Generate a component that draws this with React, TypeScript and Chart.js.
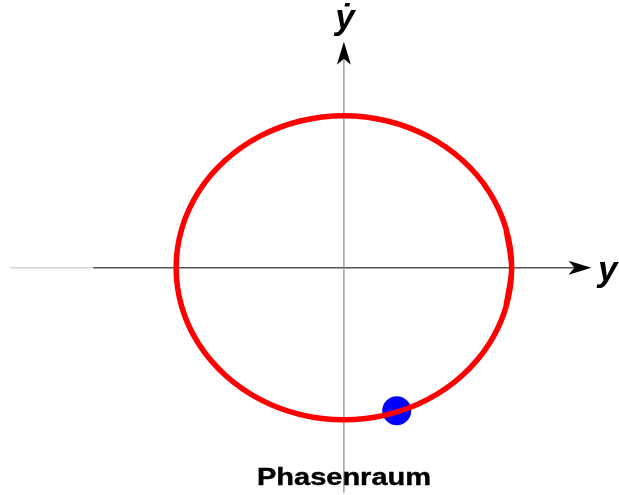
import React, { useEffect, useRef } from "react";
import { Chart, registerables } from "chart.js";

Chart.register(...registerables);

// Phase-space trajectory of a harmonic oscillator: position y against velocity ẏ
const orbitY = [0.966, 1, 0.966, 0.866, 0.707, 0.5, 0.259, 0, -0.259, -0.5, -0.707, -0.866, -0.966, -1, -0.966, -0.866, -0.707, -0.5, -0.259, 0, 0.259, 0.5, 0.707, 0.866, 0.966, 1, 0.966];
const orbitYDot = [-0.233, 0, 0.233, 0.45, 0.636, 0.779, 0.869, 0.9, 0.869, 0.779, 0.636, 0.45, 0.233, 0, -0.233, -0.45, -0.636, -0.779, -0.869, -0.9, -0.869, -0.779, -0.636, -0.45, -0.233, 0, 0.233];

// Current state of the oscillator
const stateY = [0.315];
const stateYDot = [-0.847];

// Axis extents in data units
const yAxisFaintStart = -1.988;
const yAxisStart = -1.494;
const yAxisTip = 1.476;
const yDotAxisBottom = -1.332;
const yDotAxisTip = 1.338;

const xLabel = "y";
const yLabel = "ẏ";
const title = "Phasenraum";

const arrowAxes = {
  id: "arrowAxes",
  beforeDatasetsDraw(chart: any) {
    const { ctx } = chart;
    const xs = chart.scales.x;
    const ys = chart.scales.y;
    const x0 = xs.getPixelForValue(0);
    const y0 = ys.getPixelForValue(0);
    const head = 23;
    const half = 7;
    const notch = 17;
    ctx.save();
    ctx.lineWidth = 1.3;
    // horizontal axis
    ctx.strokeStyle = "#d4d4d4";
    ctx.beginPath();
    ctx.moveTo(xs.getPixelForValue(yAxisFaintStart), y0);
    ctx.lineTo(xs.getPixelForValue(yAxisStart), y0);
    ctx.stroke();
    const xTip = xs.getPixelForValue(yAxisTip);
    ctx.strokeStyle = "#555555";
    ctx.beginPath();
    ctx.moveTo(xs.getPixelForValue(yAxisStart), y0);
    ctx.lineTo(xTip - notch, y0);
    ctx.stroke();
    // vertical axis
    const yTip = ys.getPixelForValue(yDotAxisTip);
    ctx.strokeStyle = "#8f8f8f";
    ctx.beginPath();
    ctx.moveTo(x0, ys.getPixelForValue(yDotAxisBottom));
    ctx.lineTo(x0, yTip + notch);
    ctx.stroke();
    // arrow heads
    ctx.fillStyle = "#000000";
    ctx.beginPath();
    ctx.moveTo(xTip, y0);
    ctx.lineTo(xTip - head, y0 - half);
    ctx.lineTo(xTip - notch, y0);
    ctx.lineTo(xTip - head, y0 + half);
    ctx.closePath();
    ctx.fill();
    ctx.beginPath();
    ctx.moveTo(x0, yTip);
    ctx.lineTo(x0 - half, yTip + head);
    ctx.lineTo(x0, yTip + notch);
    ctx.lineTo(x0 + half, yTip + head);
    ctx.closePath();
    ctx.fill();
    ctx.restore();
  },
};

export default function App() {
  const ref = useRef<HTMLCanvasElement>(null);

  useEffect(() => {
    if (!ref.current) return;
    const chart = new Chart(ref.current, {
      type: "scatter",
      data: {
        datasets: [
          {
            label: "Trajektorie",
            data: orbitY.map((v, i) => ({ x: v, y: orbitYDot[i] })),
            showLine: true,
            borderColor: "#ff0000",
            borderWidth: 5.5,
            tension: 0.33,
            pointRadius: 0,
            fill: false,
          },
          {
            label: "Zustand",
            data: stateY.map((v, i) => ({ x: v, y: stateYDot[i] })),
            backgroundColor: "#0000ff",
            borderWidth: 0,
            pointRadius: 14.5,
            pointHoverRadius: 14.5,
          },
        ],
      },
      options: {
        animation: false,
        responsive: false,
        devicePixelRatio: 1,
        layout: { padding: 0, autoPadding: false },
        plugins: {
          legend: { display: false },
          tooltip: { enabled: false },
          title: { display: false },
        },
        scales: {
          x: { type: "linear", min: -2.05, max: 1.64, display: false },
          y: { type: "linear", min: -1.345, max: 1.585, display: false },
        },
      },
      plugins: [arrowAxes],
    });
    return () => chart.destroy();
  }, []);

  const labelFont = "'Liberation Sans', Arial, sans-serif";

  return (
    <div style={{ position: "absolute", left: 0, top: 0, width: 619, height: 495, background: "#ffffff" }}>
      <canvas ref={ref} width={619} height={495} style={{ position: "absolute", left: 0, top: 0 }} />
      <div
        style={{
          position: "absolute",
          left: 325,
          top: -4,
          width: 40,
          textAlign: "center",
          fontFamily: labelFont,
          fontWeight: "bold",
          fontStyle: "italic",
          fontSize: 35,
          lineHeight: "42px",
        }}
      >
        {yLabel}
      </div>
      <div
        style={{
          position: "absolute",
          left: 598,
          top: 249,
          fontFamily: labelFont,
          fontWeight: "bold",
          fontStyle: "italic",
          fontSize: 35,
          lineHeight: "40px",
        }}
      >
        {xLabel}
      </div>
      <div
        style={{
          position: "absolute",
          left: 244,
          top: 462,
          width: 200,
          textAlign: "center",
          fontFamily: labelFont,
          fontWeight: "bold",
          fontSize: 23,
          lineHeight: "30px",
          transform: "scaleX(1.26)",
          transformOrigin: "center",
          WebkitTextStroke: "0.4px #000",
        }}
      >
        {title}
      </div>
    </div>
  );
}
